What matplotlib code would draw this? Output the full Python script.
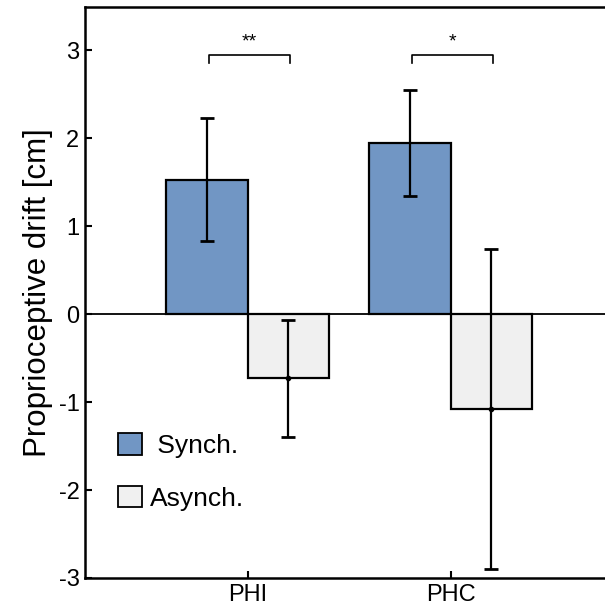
import numpy as np
import matplotlib
matplotlib.use("Agg")
import matplotlib.pyplot as plt
from matplotlib.patches import Patch

plt.rcParams['font.family'] = ['Liberation Sans', 'DejaVu Sans']

# data
groups = ['PHI', 'PHC']
synch_mean = [1.53, 1.95]
synch_err = [0.70, 0.60]
asynch_mean = [-0.73, -1.08]
asynch_err = [0.67, 1.82]
sig_labels = ['**', '*']

synch_color = '#7196c4'
asynch_color = '#f0f0f0'
width = 0.4

fig = plt.figure(figsize=(6.05, 6.16), dpi=100)
ax = fig.add_axes([0.1405, 0.0617, 0.873, 0.9277])

x = np.arange(1, len(groups) + 1)

ax.axhline(0, color='black', lw=1.3, zorder=1)

ax.bar(x - width / 2, synch_mean, width, color=synch_color,
       edgecolor='black', linewidth=1.6, zorder=2)
ax.bar(x + width / 2, asynch_mean, width, color=asynch_color,
       edgecolor='black', linewidth=1.6, zorder=2)

ax.errorbar(x - width / 2, synch_mean, yerr=synch_err, fmt='none',
            ecolor='black', elinewidth=1.6, capsize=5, capthick=2, zorder=3)
ax.errorbar(x + width / 2, asynch_mean, yerr=asynch_err, fmt='o', ms=3,
            color='black', ecolor='black', elinewidth=1.6, capsize=5,
            capthick=2, zorder=3)

# significance brackets
for xi, lab in zip(x, sig_labels):
    x0, x1 = xi - 0.19, xi + 0.21
    ax.plot([x0, x0, x1, x1], [2.86, 2.95, 2.95, 2.86], color='black',
            lw=1.2, zorder=3)
    ax.text((x0 + x1) / 2, 3.0, lab, ha='center', va='bottom', fontsize=14)

ax.set_xlim(0.2, 2.8)
ax.set_ylim(-3, 3.5)
ax.set_xticks(x)
ax.set_xticklabels(groups, fontsize=17)
ax.set_yticks(np.arange(-3, 4))
ax.set_yticklabels([str(v) for v in range(-3, 4)], fontsize=17)
ax.tick_params(direction='in', length=5, width=1.5, pad=4)
ax.set_ylabel('Proprioceptive drift [cm]', fontsize=22.5, labelpad=4)

for s in ax.spines.values():
    s.set_linewidth(1.8)

handles = [Patch(facecolor=synch_color, edgecolor='black', linewidth=1.3),
           Patch(facecolor=asynch_color, edgecolor='black', linewidth=1.3)]
ax.legend(handles, [' Synch.', 'Asynch.'], loc='center left',
          bbox_to_anchor=(0.0625, 0.186), frameon=False, fontsize=19,
          handlelength=0.9, handleheight=0.9, handletextpad=0.3,
          labelspacing=1.05, borderpad=0, borderaxespad=0)

fig.savefig('out.png', dpi=100)
